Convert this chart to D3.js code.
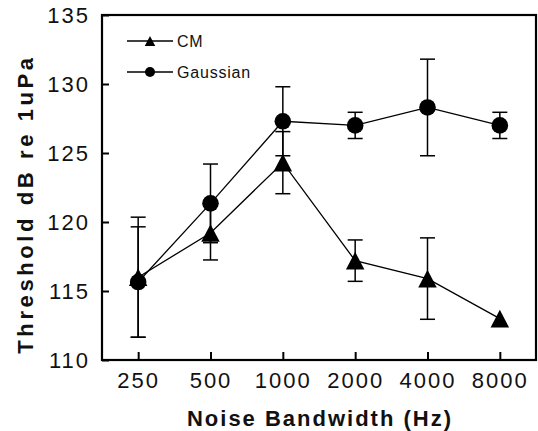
<!DOCTYPE html>
<html>
<head>
<meta charset="utf-8">
<script src="https://cdn.jsdelivr.net/npm/d3@7"></script>
<style>
  body { margin: 0; background: #fff; }
  svg { display: block; font-family: "Liberation Sans", Arial, sans-serif; }
</style>
</head>
<body>
<svg id="chart" width="538" height="431"></svg>
<script>
var categories = ["250", "500", "1000", "2000", "4000", "8000"]
var cmValues = [116.0, 119.2, 124.3, 117.2, 115.9, 113.0]
var cmErrors = [4.35, 1.95, 2.25, 1.5, 2.95, 0]
var gaussValues = [115.65, 121.35, 127.3, 127.0, 128.3, 127.0]
var gaussErrors = [4.0, 2.85, 2.5, 0.95, 3.5, 0.95]
var yTicks = [110, 115, 120, 125, 130, 135]

var svg = d3.select("svg#chart")
var plotLeft = 102, plotRight = 536, plotTop = 15, plotBottom = 360

var x = d3.scalePoint().domain(categories).range([plotLeft, plotRight]).padding(0.5)
var y = d3.scaleLinear().domain([110, 135]).range([plotBottom, plotTop])

// triangle centred on its bounding box
function triangle(s) {
    return "M0," + (-s) + "L" + (s * 1.05) + "," + s + "L" + (-s * 1.05) + "," + s + "Z"
}

function series(values, errors, marker) {
    var g = svg.append("g")
    var pts = categories.map(function(c, i) { return { c: c, v: values[i], e: errors[i] } })

    g.append("path")
        .datum(pts)
        .attr("fill", "none")
        .attr("stroke", "#000")
        .attr("stroke-width", 1.3)
        .attr("d", d3.line().x(function(d) { return x(d.c) }).y(function(d) { return y(d.v) }))

    var eb = g.selectAll(".err").data(pts.filter(function(d) { return d.e > 0 })).enter().append("g")
        .attr("stroke", "#000").attr("stroke-width", 1.5)
    eb.append("line")
        .attr("x1", function(d) { return x(d.c) }).attr("x2", function(d) { return x(d.c) })
        .attr("y1", function(d) { return y(d.v + d.e) }).attr("y2", function(d) { return y(d.v - d.e) })
    eb.append("line")
        .attr("x1", function(d) { return x(d.c) - 7.5 }).attr("x2", function(d) { return x(d.c) + 7.5 })
        .attr("y1", function(d) { return y(d.v + d.e) }).attr("y2", function(d) { return y(d.v + d.e) })
    eb.append("line")
        .attr("x1", function(d) { return x(d.c) - 7.5 }).attr("x2", function(d) { return x(d.c) + 7.5 })
        .attr("y1", function(d) { return y(d.v - d.e) }).attr("y2", function(d) { return y(d.v - d.e) })

    if (marker == "circle") {
        g.selectAll("circle").data(pts).enter().append("circle")
            .attr("cx", function(d) { return x(d.c) })
            .attr("cy", function(d) { return y(d.v) })
            .attr("r", 8.3)
            .attr("fill", "#000")
    } else {
        g.selectAll(".tri").data(pts).enter().append("path")
            .attr("transform", function(d) { return "translate(" + x(d.c) + "," + y(d.v) + ")" })
            .attr("d", triangle(8.8))
            .attr("fill", "#000")
    }
}

series(gaussValues, gaussErrors, "circle")
series(cmValues, cmErrors, "triangle")

// axes with inward ticks
var xAxis = svg.append("g")
    .attr("transform", "translate(0," + plotBottom + ")")
    .call(d3.axisBottom(x).tickSize(-8).tickPadding(12))
var yAxis = svg.append("g")
    .attr("transform", "translate(" + plotLeft + ",0)")
    .call(d3.axisLeft(y).tickValues(yTicks).tickSize(-7).tickPadding(12))

svg.selectAll(".domain").remove()
svg.selectAll(".tick line").attr("stroke", "#000").attr("stroke-width", 2)
svg.selectAll(".tick text")
    .attr("fill", "#111")
    .style("font-size", "22px")
    .style("letter-spacing", "2px")
yAxis.selectAll(".tick text").attr("dy", "0.36em")

svg.append("rect")
    .attr("x", plotLeft).attr("y", plotTop)
    .attr("width", plotRight - plotLeft).attr("height", plotBottom - plotTop)
    .attr("fill", "none").attr("stroke", "#000").attr("stroke-width", 2.2)

// titles
svg.append("text")
    .attr("x", 320).attr("y", 426)
    .attr("text-anchor", "middle")
    .style("font-size", "22px").style("font-weight", "bold").style("letter-spacing", "2px")
    .attr("fill", "#111")
    .text("Noise Bandwidth (Hz)")

svg.append("text")
    .attr("transform", "translate(33,204) rotate(-90)")
    .attr("text-anchor", "middle")
    .style("font-size", "22px").style("font-weight", "bold").style("letter-spacing", "3.6px")
    .attr("fill", "#111")
    .text("Threshold dB re 1uPa")

// legend
var legendItems = [
    { name: "CM", marker: "triangle", y: 41 },
    { name: "Gaussian", marker: "circle", y: 72 }
]
legendItems.forEach(function(d) {
    svg.append("line")
        .attr("x1", 127).attr("x2", 173).attr("y1", d.y).attr("y2", d.y)
        .attr("stroke", "#000").attr("stroke-width", 1.3)
    if (d.marker == "circle") {
        svg.append("circle").attr("cx", 150).attr("cy", d.y).attr("r", 5).attr("fill", "#000")
    } else {
        svg.append("path").attr("transform", "translate(150," + d.y + ")").attr("d", triangle(5)).attr("fill", "#000")
    }
    svg.append("text")
        .attr("x", 177).attr("y", d.y).attr("dy", "0.36em")
        .style("font-size", "16px").style("letter-spacing", "0.8px")
        .attr("fill", "#111")
        .text(d.name)
})
</script>
</body>
</html>
